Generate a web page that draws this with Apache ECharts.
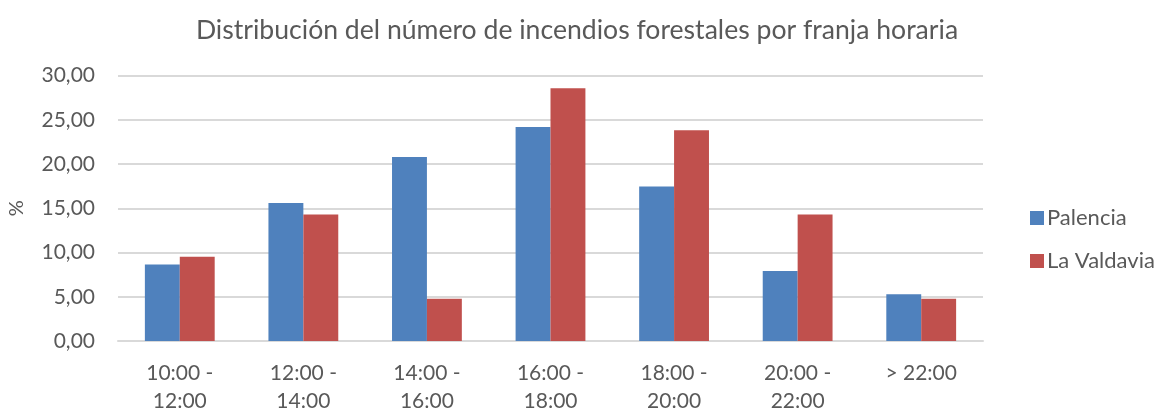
<!DOCTYPE html>
<html>
<head>
<meta charset="utf-8">
<script src="https://cdn.jsdelivr.net/npm/echarts@6/dist/echarts.min.js"></script>
<style>
  html, body { margin: 0; padding: 0; background: #ffffff; }
  #chart { width: 1154px; height: 410px; }
</style>
</head>
<body>
<div id="chart"></div>
<script>
// Time slots (x axis)
const categories = ['10:00 -\n12:00', '12:00 -\n14:00', '14:00 -\n16:00', '16:00 -\n18:00', '18:00 -\n20:00', '20:00 -\n22:00', '> 22:00'];
// Share of forest fires per time slot, in %
const palencia = [8.63, 15.60, 20.80, 24.19, 17.46, 7.92, 5.28];
const laValdavia = [9.52, 14.29, 4.76, 28.57, 23.81, 14.29, 4.76];
const seriesNames = ['Palencia', 'La Valdavia'];

const textColor = '#595959';
const fontFamily = 'Lato, "Open Sans", sans-serif';

const chart = echarts.init(document.getElementById('chart'), null, { renderer: 'canvas' });
chart.setOption({
  animation: false,
  backgroundColor: '#ffffff',
  textStyle: { fontFamily: fontFamily, color: textColor },
  title: {
    text: 'Distribución del número de incendios forestales por franja horaria',
    left: 'center',
    top: 12,
    textStyle: { fontFamily: fontFamily, fontSize: 26.6, fontWeight: 'normal', color: textColor }
  },
  legend: {
    orient: 'vertical',
    left: 1025,
    top: 202,
    itemWidth: 14,
    itemHeight: 14,
    itemGap: 21,
    icon: 'rect',
    textStyle: { fontFamily: fontFamily, fontSize: 22, color: textColor, padding: [0, 0, 0, -2] },
    data: seriesNames
  },
  grid: { left: 118, right: 171, top: 75.5, bottom: 69, containLabel: false, outerBoundsMode: 'none' },
  xAxis: {
    type: 'category',
    data: categories,
    axisLine: { show: true, lineStyle: { color: '#d9d9d9', width: 2 } },
    axisTick: { show: false },
    axisLabel: { fontFamily: fontFamily, fontSize: 21, color: textColor, lineHeight: 28, margin: 18, interval: 0 }
  },
  yAxis: {
    type: 'value',
    min: 0,
    max: 30,
    interval: 5,
    name: '%',
    nameLocation: 'middle',
    nameGap: 91,
    nameRotate: 90,
    nameTextStyle: { fontFamily: fontFamily, fontSize: 20, color: textColor },
    axisLine: { show: false },
    axisTick: { show: false },
    axisLabel: {
      fontFamily: fontFamily, fontSize: 21, color: textColor, margin: 23,
      formatter: v => v.toFixed(2).replace('.', ',')
    },
    splitLine: { lineStyle: { color: '#d9d9d9', width: 2 } }
  },
  series: [
    {
      name: seriesNames[0],
      type: 'bar',
      data: palencia,
      barGap: '0%',
      barCategoryGap: '43.5%',
      itemStyle: { color: '#4f81bd' }
    },
    {
      name: seriesNames[1],
      type: 'bar',
      data: laValdavia,
      barGap: '0%',
      barCategoryGap: '43.5%',
      itemStyle: { color: '#c0504d' }
    }
  ]
});
</script>
</body>
</html>
